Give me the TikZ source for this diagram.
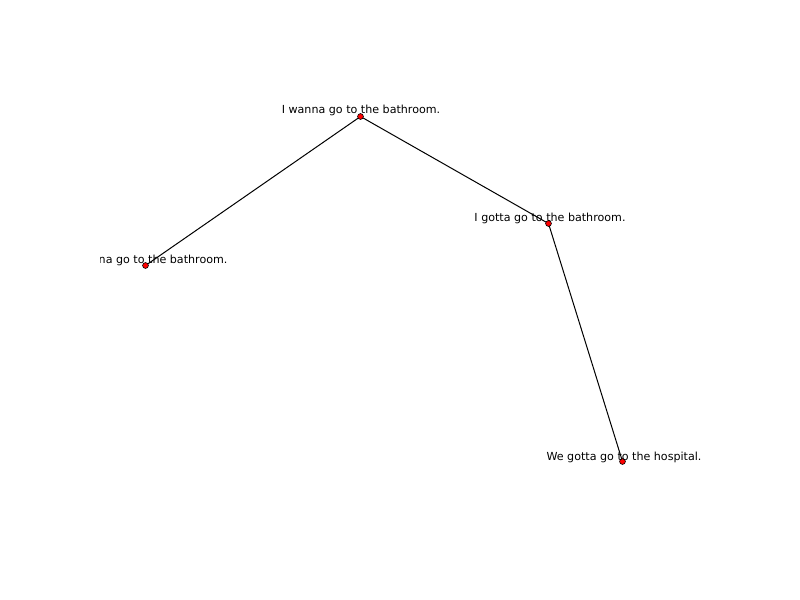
\documentclass[tikz,border=0pt]{standalone}
\usepackage{fontspec}
\setmainfont{DejaVu Sans}
\begin{document}
\begin{tikzpicture}[x=0.75pt,y=-0.75pt,
  dot/.style={circle,draw=black,fill=red,line width=0.45pt,minimum size=4.4pt,inner sep=0pt},
  lbl/.style={font=\fontsize{8.33}{10}\selectfont,inner sep=0pt,text=black},
  edge/.style={draw=black,line width=0.75pt}]
\useasboundingbox (0,0) rectangle (800,600);
\begin{scope}
\clip (100,72) rectangle (720,534);
\coordinate (pa) at (360.5,116.5);
\coordinate (pb) at (548.5,223.5);
\coordinate (pc) at (145.5,265.5);
\coordinate (pd) at (622.5,461.5);
\draw[edge] (pa) -- (pb);
\draw[edge] (pa) -- (pc);
\draw[edge] (pb) -- (pd);
\node[dot] (a) at (pa) {};
\node[dot] (b) at (pb) {};
\node[dot] (c) at (pc) {};
\node[dot] (d) at (pd) {};
\node[lbl] (la) at (361,110.7) {I wanna go to the bathroom.};
\node[lbl] (lb) at (550,218.7) {I gotta go to the bathroom.};
\node[lbl] (lc) at (148.2,260.7) {I wanna go to the bathroom.};
\node[lbl] (ld) at (624,457.7) {We gotta go to the hospital.};
\end{scope}
\end{tikzpicture}
\end{document}
